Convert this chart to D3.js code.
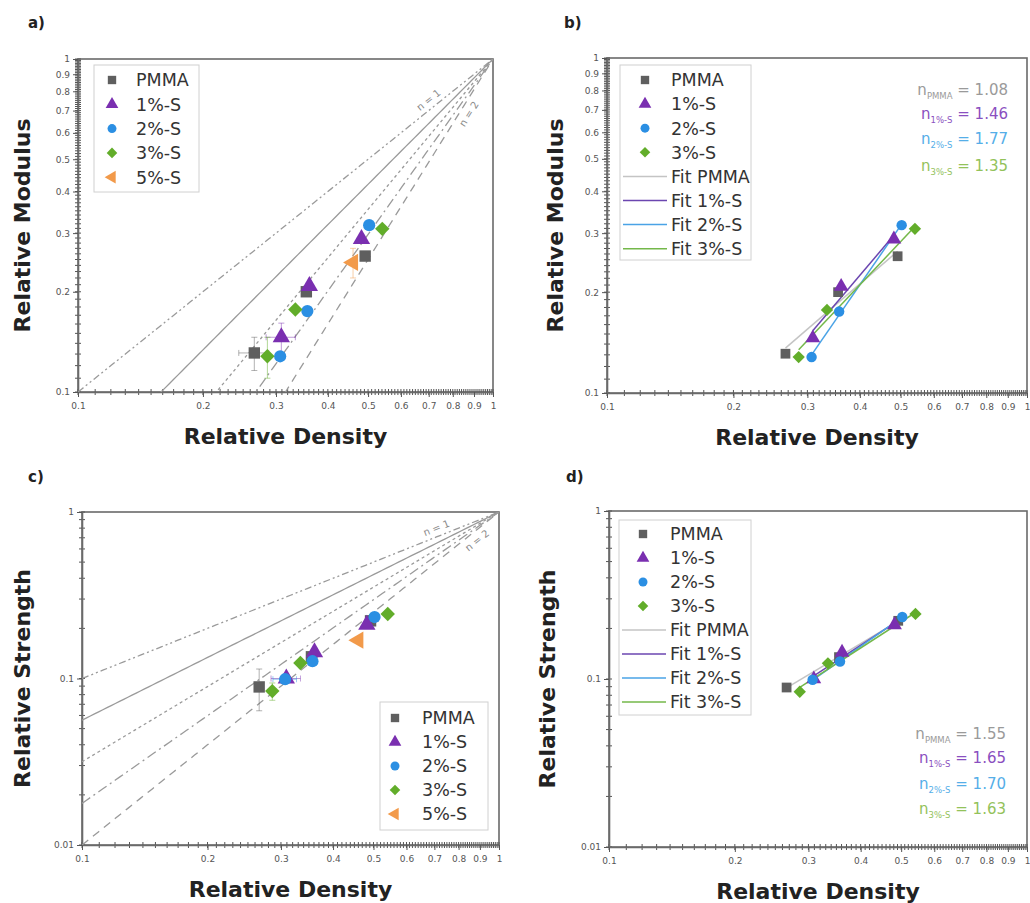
<!DOCTYPE html>
<html><head><meta charset="utf-8">
<script src="https://cdn.jsdelivr.net/npm/d3@7"></script>
<style>body{margin:0;background:#fff}svg{display:block}</style>
</head><body>
<svg id="chart" width="1030" height="903"></svg>
<script>
// ---------------- DATA ----------------
const seriesNames = ["PMMA", "1%-S", "2%-S", "3%-S", "5%-S"];
const fitNames = ["Fit PMMA", "Fit 1%-S", "Fit 2%-S", "Fit 3%-S"];

// relative density
const densPMMA = [0.266, 0.355, 0.492];
const dens1S   = [0.309, 0.361, 0.482];
const dens2S   = [0.307, 0.357, 0.503];
const dens3S   = [0.286, 0.334, 0.541];
const dens5S   = [0.460];

// relative modulus
const modPMMA = [0.131, 0.200, 0.256];
const mod1S   = [0.146, 0.208, 0.288];
const mod2S   = [0.128, 0.175, 0.317];
const mod3S   = [0.128, 0.177, 0.309];
const mod5S   = [0.245];

// relative strength
const strPMMA = [0.089, 0.135, 0.222];
const str1S   = [0.100, 0.144, 0.210];
const str2S   = [0.099, 0.127, 0.234];
const str3S   = [0.084, 0.124, 0.244];
const str5S   = [0.170];

// error bars (first points mostly)
const modErrY = [[0.015, 0, 0], [0.015, 0, 0], [0, 0, 0], [0.018, 0, 0], [0.025]];
const modErrX = [[0.022, 0, 0], [0.025, 0, 0], [0, 0, 0], [0, 0, 0], [0]];
const strErrY = [[0.025, 0, 0], [0, 0, 0], [0, 0, 0], [0.01, 0, 0], [0]];
const strErrX = [[0, 0, 0], [0.025, 0, 0], [0.02, 0, 0], [0, 0, 0], [0]];

// exponent annotations
const nModLabels = ["1.08", "1.46", "1.77", "1.35"];
const nStrLabels = ["1.55", "1.65", "1.70", "1.63"];
const nSubs = ["PMMA", "1%-S", "2%-S", "3%-S"];

// Gibson-Ashby guide exponents
const guideN = [1, 1.25, 1.5, 1.75, 2];

// ticks
const xTicks = [0.1, 0.2, 0.3, 0.4, 0.5, 0.6, 0.7, 0.8, 0.9, 1];
const xTickLabels = ["0.1", "0.2", "0.3", "0.4", "0.5", "0.6", "0.7", "0.8", "0.9", "1"];
const yTicksMod = [0.1, 0.2, 0.3, 0.4, 0.5, 0.6, 0.7, 0.8, 0.9, 1];
const yTickLabelsMod = ["0.1", "0.2", "0.3", "0.4", "0.5", "0.6", "0.7", "0.8", "0.9", "1"];
const yTicksStr = [0.01, 0.1, 1];
const yTickLabelsStr = ["0.01", "0.1", "1"];

// ---------------- STYLE ----------------
const colors = ["#5f5f5f", "#7a2fb0", "#2b8fe3", "#62ad2a", "#f29a4a"];
const fitColors = ["#c4c4c4", "#6b46b0", "#4aa3e6", "#74b84a"];
const annColors = ["#9a9a9a", "#8a4fc0", "#55aee8", "#93c25a"];
const guideDash = ["7,3,2,3,2,3", null, "3,3", "10,4,2,4", "8,6"];
const FONT = "'DejaVu Sans', Verdana, sans-serif";

const svg = d3.select("#chart");

const densSets = [densPMMA, dens1S, dens2S, dens3S, dens5S];
const modSets = [modPMMA, mod1S, mod2S, mod3S, mod5S];
const strSets = [strPMMA, str1S, str2S, str3S, str5S];

function symbolPath(i, size) {
  const types = [d3.symbolSquare, d3.symbolTriangle, d3.symbolCircle, d3.symbolSquare, d3.symbolTriangle];
  const s = i === 3 ? size * 0.8 : (i === 2 ? size * 0.9 : size);
  return d3.symbol().type(types[i]).size(s)();
}
function symbolRot(i) { return i === 4 ? -90 : (i === 3 ? 45 : 0); }

function minorRange(lo, hi, step) {
  const out = [];
  const n = Math.round((hi - lo) / step);
  for (let k = 0; k <= n; k++) out.push(+(lo + k * step).toFixed(4));
  return out;
}

function drawPanel(cfg) {
  const g = svg.append("g");
  const x = d3.scaleLog().domain([0.1, 1]).range([cfg.left, cfg.right]);
  const y = d3.scaleLog().domain(cfg.yDomain).range([cfg.bottom, cfg.top]);

  // panel letter
  g.append("text").attr("x", cfg.letter[0]).attr("y", cfg.letter[1])
    .attr("font-family", FONT).attr("font-weight", "bold").attr("font-size", 15)
    .attr("fill", "#222").text(cfg.letterText);

  // frame
  g.append("rect").attr("x", cfg.left).attr("y", cfg.top)
    .attr("width", cfg.right - cfg.left).attr("height", cfg.bottom - cfg.top)
    .attr("fill", "none").attr("stroke", "#6a6a6a").attr("stroke-width", 1.6);

  // minor ticks (crossing the axis), drawn directly from the scales
  const xMinor = minorRange(0.1, 1, 0.01);
  g.append("g").selectAll("line").data(xMinor).join("line")
    .attr("x1", d => x(d)).attr("x2", d => x(d))
    .attr("y1", cfg.bottom - 3).attr("y2", cfg.bottom + 3)
    .attr("stroke", "#555").attr("stroke-width", 1);
  const yMinor = cfg.strength ? minorRange(0.01, 0.1, 0.01).concat(minorRange(0.2, 1, 0.1))
                              : minorRange(0.1, 1, 0.01);
  g.append("g").selectAll("line").data(yMinor).join("line")
    .attr("y1", d => y(d)).attr("y2", d => y(d))
    .attr("x1", cfg.left - 3).attr("x2", cfg.left + 3)
    .attr("stroke", "#555").attr("stroke-width", 1);

  // major axes
  const xAx = g.append("g").attr("transform", `translate(0,${cfg.bottom})`)
    .call(d3.axisBottom(x).tickValues(xTicks).tickFormat((d, i) => xTickLabels[i]).tickSize(5).tickSizeOuter(0).tickPadding(6));
  const yT = cfg.strength ? yTicksStr : yTicksMod;
  const yL = cfg.strength ? yTickLabelsStr : yTickLabelsMod;
  const yAx = g.append("g").attr("transform", `translate(${cfg.left},0)`)
    .call(d3.axisLeft(y).tickValues(yT).tickFormat((d, i) => yL[i]).tickSize(5).tickSizeOuter(0).tickPadding(3));
  [xAx, yAx].forEach(a => {
    a.select(".domain").attr("stroke", "#6a6a6a").attr("stroke-width", 1.6);
    a.selectAll("line").attr("stroke", "#555");
    a.selectAll("text").attr("font-family", FONT).attr("font-size", 9).attr("fill", "#555");
  });

  // axis titles
  g.append("text").attr("x", (cfg.left + cfg.right) / 2).attr("y", cfg.bottom + 52)
    .attr("text-anchor", "middle").attr("font-family", FONT).attr("font-weight", "bold")
    .attr("font-size", 22).attr("fill", "#222").text("Relative Density");
  g.append("text").attr("transform", `translate(${cfg.yTitleX + 8},${(cfg.top + cfg.bottom) / 2}) rotate(-90)`)
    .attr("text-anchor", "middle").attr("font-family", FONT).attr("font-weight", "bold")
    .attr("font-size", 22).attr("fill", "#222").text(cfg.yTitle);

  const clipId = "clip" + cfg.letterText[0];
  g.append("clipPath").attr("id", clipId).append("rect")
    .attr("x", cfg.left).attr("y", cfg.top).attr("width", cfg.right - cfg.left).attr("height", cfg.bottom - cfg.top);
  const plot = g.append("g").attr("clip-path", `url(#${clipId})`);

  // guide lines y = x^n
  if (cfg.guides) {
    const xs = d3.range(0, 101).map(k => Math.pow(10, -1 + k / 100));
    guideN.forEach((n, i) => {
      const line = d3.line().x(d => x(d)).y(d => y(Math.pow(d, n)));
      plot.append("path").attr("d", line(xs.filter(v => Math.pow(v, n) >= cfg.yDomain[0] * 0.9)))
        .attr("fill", "none").attr("stroke", "#9a9a9a").attr("stroke-width", 1.3)
        .attr("stroke-dasharray", guideDash[i]);
    });
    // labels n = 1 and n = 2
    [[0, cfg.guideLab1], [4, cfg.guideLab2]].forEach(([i, xv]) => {
      const n = guideN[i];
      const px = x(xv), py = y(Math.pow(xv, n));
      const dx = x(xv * 1.1) - px, dy = y(Math.pow(xv * 1.1, n)) - py;
      const ang = Math.atan2(dy, dx) * 180 / Math.PI;
      const off = i === 0 ? -5 : 12;
      g.append("text").attr("transform", `translate(${px},${py}) rotate(${ang}) translate(0,${off})`)
        .attr("text-anchor", "middle").attr("font-family", FONT).attr("font-size", 10)
        .attr("fill", "#8a8a8a").text("n = " + n);
    });
  }

  const ySets = cfg.strength ? strSets : modSets;
  const nSeries = cfg.fits ? 4 : 5;

  // fit lines
  if (cfg.fits) {
    for (let i = 0; i < 4; i++) {
      const lx = densSets[i].map(Math.log10), ly = ySets[i].map(Math.log10);
      const mx = d3.mean(lx), my = d3.mean(ly);
      const slope = d3.sum(lx.map((v, k) => (v - mx) * (ly[k] - my))) / d3.sum(lx.map(v => (v - mx) ** 2));
      const b = my - slope * mx;
      const ext = d3.extent(densSets[i]);
      plot.append("line")
        .attr("x1", x(ext[0])).attr("y1", y(Math.pow(10, b + slope * Math.log10(ext[0]))))
        .attr("x2", x(ext[1])).attr("y2", y(Math.pow(10, b + slope * Math.log10(ext[1]))))
        .attr("stroke", fitColors[i]).attr("stroke-width", 1.5);
    }
  }

  // error bars
  if (cfg.errY) {
    for (let i = 0; i < nSeries; i++) {
      densSets[i].forEach((dx, k) => {
        const ey = cfg.errY[i][k], ex = cfg.errX[i][k], yv = ySets[i][k];
        const c = colors[i];
        if (ey > 0) {
          plot.append("line").attr("x1", x(dx)).attr("x2", x(dx)).attr("y1", y(yv - ey)).attr("y2", y(yv + ey))
            .attr("stroke", c).attr("stroke-width", 0.8).attr("opacity", 0.6);
          [yv - ey, yv + ey].forEach(v => plot.append("line").attr("x1", x(dx) - 3).attr("x2", x(dx) + 3)
            .attr("y1", y(v)).attr("y2", y(v)).attr("stroke", c).attr("stroke-width", 0.8).attr("opacity", 0.6));
        }
        if (ex > 0) {
          plot.append("line").attr("y1", y(yv)).attr("y2", y(yv)).attr("x1", x(dx - ex)).attr("x2", x(dx + ex))
            .attr("stroke", c).attr("stroke-width", 0.8).attr("opacity", 0.6);
          [dx - ex, dx + ex].forEach(v => plot.append("line").attr("y1", y(yv) - 3).attr("y2", y(yv) + 3)
            .attr("x1", x(v)).attr("x2", x(v)).attr("stroke", c).attr("stroke-width", 0.8).attr("opacity", 0.6));
        }
      });
    }
  }

  // points
  for (let i = 0; i < nSeries; i++) {
    densSets[i].forEach((dx, k) => {
      plot.append("path").attr("d", symbolPath(i, cfg.fits ? 95 : 130))
        .attr("transform", `translate(${x(dx)},${y(ySets[i][k])}) rotate(${symbolRot(i)})`)
        .attr("fill", colors[i]);
    });
  }

  // legend
  const L = cfg.legend;
  const entries = cfg.fits ? 8 : 5;
  g.append("rect").attr("x", L.x).attr("y", L.y).attr("width", L.w).attr("height", L.h)
    .attr("fill", "#fff").attr("stroke", "#d0d0d0").attr("stroke-width", 1);
  for (let e = 0; e < entries; e++) {
    const yy = L.y + L.first + e * L.step;
    if (e < nSeries) {
      g.append("path").attr("d", symbolPath(e, 70))
        .attr("transform", `translate(${L.symX},${yy}) rotate(${symbolRot(e)})`).attr("fill", colors[e]);
    } else {
      const fi = e - 4;
      g.append("line").attr("x1", L.x + 3).attr("x2", L.textX - 4).attr("y1", yy).attr("y2", yy)
        .attr("stroke", fitColors[fi]).attr("stroke-width", 1.5);
    }
    g.append("text").attr("x", L.textX).attr("y", yy).attr("dy", "0.36em")
      .attr("font-family", FONT).attr("font-size", 17.5).attr("fill", "#333")
      .text(e < nSeries ? seriesNames[e] : fitNames[e - 4]);
  }

  // exponent annotations
  if (cfg.ann) {
    const A = cfg.ann;
    A.labels.forEach((lab, i) => {
      const t = g.append("text").attr("x", A.x).attr("y", A.ys[i]).attr("text-anchor", "end")
        .attr("font-family", FONT).attr("font-size", 15).attr("fill", annColors[i]);
      t.append("tspan").text("n");
      t.append("tspan").attr("font-size", 8.5).attr("dy", 4).text(nSubs[i]);
      t.append("tspan").attr("dy", -4).text(" = " + lab);
    });
  }
}

drawPanel({
  letterText: "a)", letter: [28, 28], left: 78, right: 493, top: 59, bottom: 392,
  yDomain: [0.1, 1], yTitle: "Relative Modulus", yTitleX: 22, guides: true, guideLab1: 0.72, guideLab2: 0.84,
  fits: false, strength: false, errY: modErrY, errX: modErrX,
  legend: { x: 94, y: 65, w: 105, h: 127, first: 15, step: 24.3, symX: 112, textX: 136 }
});
drawPanel({
  letterText: "b)", letter: [564, 28], left: 607, right: 1027, top: 58, bottom: 393,
  yDomain: [0.1, 1], yTitle: "Relative Modulus", yTitleX: 555, guides: false,
  fits: true, strength: false,
  legend: { x: 620, y: 65, w: 131, h: 195, first: 15, step: 24.1, symX: 645, textX: 671 },
  ann: { x: 1008, ys: [95, 119, 144, 171], labels: nModLabels }
});
drawPanel({
  letterText: "c)", letter: [28, 482], left: 82, right: 499, top: 512, bottom: 845,
  yDomain: [0.01, 1], yTitle: "Relative Strength", yTitleX: 22, guides: true, guideLab1: 0.72, guideLab2: 0.86,
  fits: false, strength: true, errY: strErrY, errX: strErrX,
  legend: { x: 380, y: 702, w: 108, h: 128, first: 16, step: 24, symX: 395, textX: 422 }
});
drawPanel({
  letterText: "d)", letter: [566, 482], left: 609, right: 1027, top: 511, bottom: 847,
  yDomain: [0.01, 1], yTitle: "Relative Strength", yTitleX: 547, guides: false,
  fits: true, strength: true,
  legend: { x: 619, y: 520, w: 132, h: 195, first: 14, step: 24, symX: 643, textX: 670 },
  ann: { x: 1006, ys: [739, 763, 789, 814], labels: nStrLabels }
});
</script>
</body></html>
